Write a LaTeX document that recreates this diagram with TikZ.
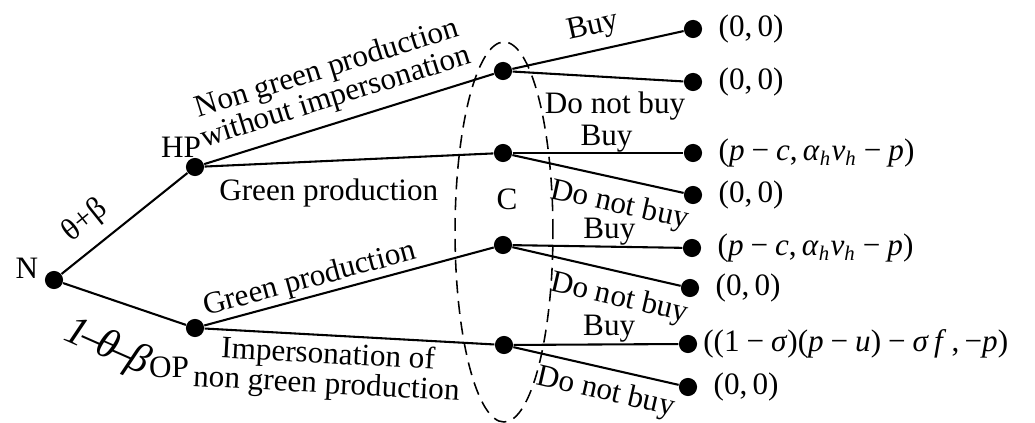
\documentclass[tikz,border=0pt]{standalone}
\usepackage{fontspec}
\setmainfont{Liberation Serif}
\usepackage{tikz}
\usetikzlibrary{positioning,shapes.geometric}
\newcommand{\iv}[1]{\textit{#1}}

\begin{document}
\begin{tikzpicture}[
  x=0.385pt, y=-0.385pt,
  font=\fontsize{12}{11.5}\selectfont,
  dot/.style={circle, fill=black, inner sep=0pt, minimum size=7pt},
  br/.style={line width=0.8pt},
  pay/.style={inner sep=0pt},
  infoset/.style={draw, ellipse, dash pattern=on 5pt off 3pt, line width=0.6pt,
    minimum width=37.7pt, minimum height=146.3pt, inner sep=0pt}
]
  \useasboundingbox (0,0) rectangle (1035,423);

  % Consumer's information set
  \node[infoset] (cset) at (504,232) {};
  \node (clab) at (507,199) {C};

  % Nature and producers
  \node[dot] (n)  at (54,280)  {};
  \node[dot] (hp) at (195,167) {};
  \node[dot] (op) at (195,328) {};
  \node (nlab)  at (27,268)  {N};
  \node (hplab) at (181,147) {HP};
  \node (oplab) at (169,367) {OP};

  % Consumer nodes
  \node[dot] (c1) at (503,71)  {};
  \node[dot] (c2) at (503,153) {};
  \node[dot] (c3) at (503,245) {};
  \node[dot] (c4) at (504,345) {};

  % End nodes
  \node[dot] (t1) at (693,29)  {};
  \node[dot] (t2) at (693,82)  {};
  \node[dot] (t3) at (693,153) {};
  \node[dot] (t4) at (693,195) {};
  \node[dot] (t5) at (692,248) {};
  \node[dot] (t6) at (690,288) {};
  \node[dot] (t7) at (688,344) {};
  \node[dot] (t8) at (688,387) {};

  % Payoffs
  \node[pay, right=6pt of t1] (p1) {(0,\,0)};
  \node[pay, right=6pt of t2] (p2) {(0,\,0)};
  \node[pay, right=6pt of t3] (p3) {(\iv{p}\:−\:\iv{c},\,\iv{α}\textsubscript{\iv{h}}\iv{v}\textsubscript{\iv{h}}\:−\:\iv{p})};
  \node[pay, right=6pt of t4] (p4) {(0,\,0)};
  \node[pay, right=6pt of t5] (p5) {(\iv{p}\:−\:\iv{c},\,\iv{α}\textsubscript{\iv{h}}\iv{v}\textsubscript{\iv{h}}\:−\:\iv{p})};
  \node[pay, right=6pt of t6] (p6) {(0,\,0)};
  \node[pay, right=2pt of t7] (p7) {((1\:−\:\iv{σ})(\iv{p}\:−\:\iv{u})\:−\:\iv{σ}\,\iv{f}\,,\,−\iv{p})};
  \node[pay, right=6pt of t8] (p8) {(0,\,0)};

  % Moves of nature
  \draw[br] (n) -- node[pos=0.32, sloped, above=1pt]{θ+β} (hp);
  \draw[br] (n) -- node[pos=0.5, sloped, below=7pt, rotate=-5,
    font=\fontsize{16}{16}\selectfont\itshape]
    {1\kern-1.5pt–\kern-1.5ptθ\kern-1.5pt–\kern-1.5ptβ} (op);

  % Producers
  \draw[br] (hp) -- node[pos=0.48, sloped, above, align=center]
    {Non green production\\without impersonation} (c1);
  \draw[br] (hp) -- node[pos=0.43, below=3pt]{Green production} (c2);
  \draw[br] (op) -- node[pos=0.38, sloped, above, inner sep=0.5pt]{Green production} (c3);
  \draw[br] (op) -- node[pos=0.43, sloped, below, inner sep=2pt, align=center]
    {Impersonation of\\non green production} (c4);

  % Consumer
  \draw[br] (c1) -- node[pos=0.5, sloped, above]{Buy} (t1);
  \draw[br] (c1) -- node[pos=0.6, below=2pt]{Do not buy} (t2);
  \draw[br] (c2) -- node[pos=0.55, above, inner sep=0pt]{Buy} (t3);
  \draw[br] (c2) -- node[pos=0.66, sloped, below=1pt]{Do not buy} (t4);
  \draw[br] (c3) -- node[pos=0.57, above, inner sep=0pt]{Buy} (t5);
  \draw[br] (c3) -- node[pos=0.67, sloped, below=1pt]{Do not buy} (t6);
  \draw[br] (c4) -- node[pos=0.58, above, inner sep=0.5pt]{Buy} (t7);
  \draw[br] (c4) -- node[pos=0.59, sloped, below=0pt]{Do not buy} (t8);
\end{tikzpicture}
\end{document}
